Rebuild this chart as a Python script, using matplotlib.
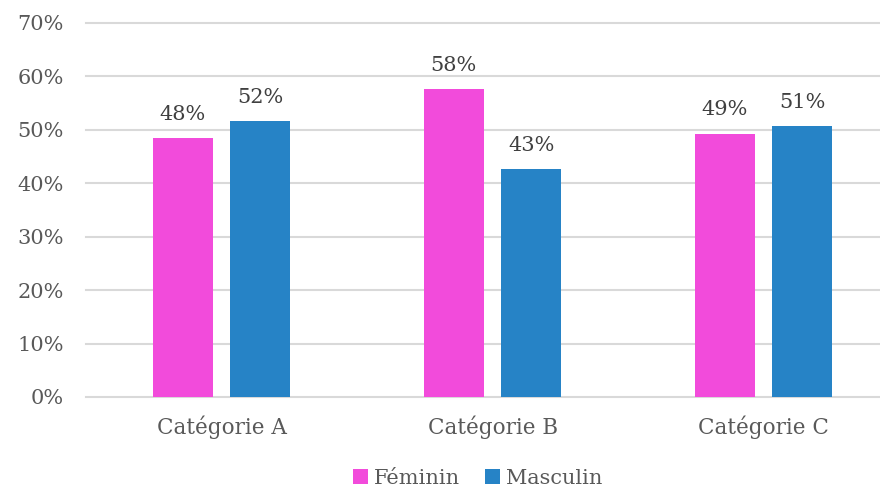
import matplotlib.pyplot as plt
import numpy as np

plt.rcParams['font.family'] = ['DejaVu Serif']

categories = ['Catégorie A', 'Catégorie B', 'Catégorie C']
feminin = [48.4, 57.6, 49.3]
masculin = [51.6, 42.6, 50.7]
yticks = [0, 10, 20, 30, 40, 50, 60, 70]

pink = '#F24BDB'
blue = '#2683C6'
grey = '#595959'

fig = plt.figure(figsize=(8.8, 4.88), dpi=100)
ax = fig.add_axes([86/880, 91/488, 794/880, 374/488])

x = np.arange(len(categories))
w = 0.222
b1 = ax.bar(x - 0.143, feminin, width=w, color=pink, label='Féminin', zorder=3)
b2 = ax.bar(x + 0.143, masculin, width=w, color=blue, label='Masculin', zorder=3)

# value labels above each bar
for bars in (b1, b2):
    for r in bars:
        h = r.get_height()
        ax.annotate('%d%%' % round(h), (r.get_x() + r.get_width()/2, h),
                    xytext=(0, 10.5), textcoords='offset points',
                    ha='center', va='bottom', fontsize=15, color='#404040')

ax.set_xlim(-0.5, 2.5 - 19/271)
ax.set_ylim(0, 70)
ax.set_yticks(yticks)
ax.set_yticklabels(['%d%%' % t for t in yticks], fontsize=15, color=grey)
ax.set_xticks(x)
ax.set_xticklabels(categories, fontsize=15.5, color=grey)
ax.tick_params(length=0)
ax.tick_params(axis='x', pad=13)
ax.tick_params(axis='y', pad=16)
ax.grid(axis='y', color='#d9d9d9', linewidth=1.5, zorder=0)
for line in ax.get_ygridlines():
    line.set_clip_on(False)
for s in ax.spines.values():
    s.set_visible(False)

fig.legend(loc='center', bbox_to_anchor=(478/880, 10/488), ncol=2, frameon=False,
           fontsize=15, labelcolor=grey, handlelength=0.7, handleheight=0.7,
           handletextpad=0.3, columnspacing=1.2)

fig.savefig('out.png', dpi=100)
